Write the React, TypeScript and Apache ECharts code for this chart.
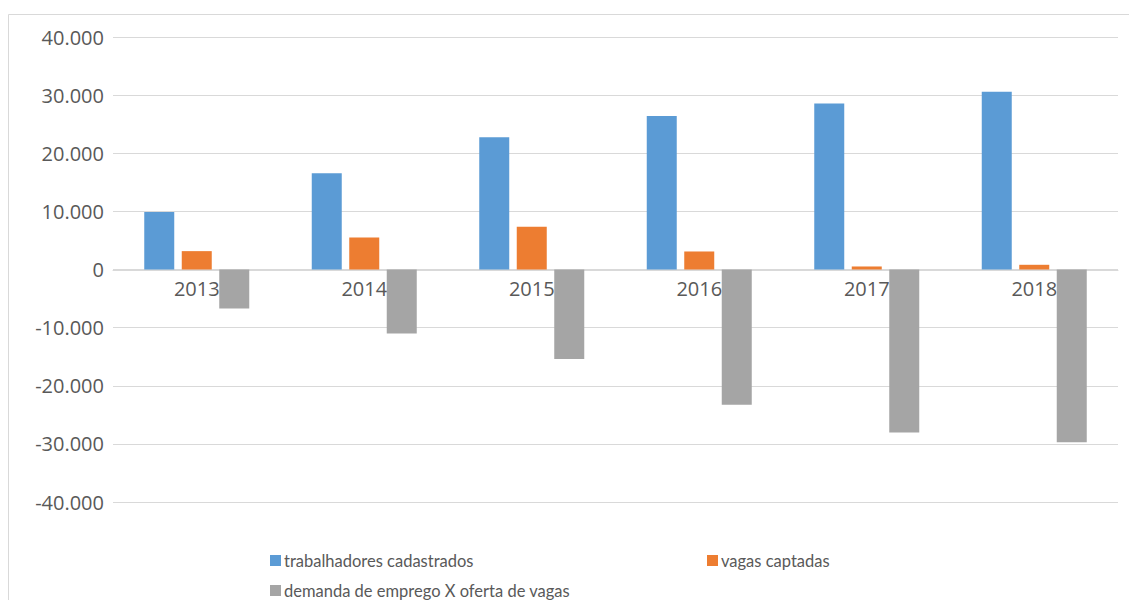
import React, { useEffect, useRef } from "react";
import * as echarts from "echarts";

const categories = ["2013", "2014", "2015", "2016", "2017", "2018"];
const trabalhadores = [9880, 16550, 22740, 26430, 28570, 30570];
const vagas = [3160, 5520, 7360, 3100, 520, 810];
const demanda = [-6720, -11030, -15400, -23280, -28050, -29720];

const seriesNames = [
  "trabalhadores cadastrados",
  "vagas captadas",
  "demanda de emprego X oferta de vagas",
];
const colors = ["#5B9BD5", "#ED7D31", "#A5A5A5"];

function fmt(v: number): string {
  const neg = v < 0;
  const s = Math.abs(v).toString().replace(/\B(?=(\d{3})+(?!\d))/g, ".");
  return (neg ? "-" : "") + s;
}

export default function App() {
  const ref = useRef<HTMLDivElement>(null);
  useEffect(() => {
    if (!ref.current) return;
    const chart = echarts.init(ref.current, undefined, { renderer: "svg" });
    const font = "'Open Sans', 'Noto Sans', sans-serif";
    const legendText = {
      color: "#595959",
      fontSize: 16.5,
      fontFamily: "Lato, 'Open Sans', sans-serif",
      padding: [0, 0, 0, -2],
    };
    const legendBase = {
      itemWidth: 11,
      itemHeight: 11,
      icon: "rect",
      padding: 0,
      textStyle: legendText,
    };
    chart.setOption({
      animation: false,
      backgroundColor: "#ffffff",
      textStyle: { fontFamily: font },
      graphic: [
        {
          type: "rect",
          shape: { x: 8.5, y: 14.5, width: 1200, height: 700 },
          style: { fill: "none", stroke: "#D9D9D9", lineWidth: 1 },
          silent: true,
        },
      ],
      grid: { left: 113, right: 11, top: 37, bottom: 98, containLabel: false },
      legend: [
        { ...legendBase, data: [seriesNames[0]], left: 270, top: 552 },
        { ...legendBase, data: [seriesNames[1]], left: 707, top: 552 },
        { ...legendBase, data: [seriesNames[2]], left: 270, top: 582 },
      ],
      xAxis: {
        type: "category",
        data: categories,
        offset: -232,
        axisLine: { onZero: false, lineStyle: { color: "#D9D9D9", width: 1 } },
        axisTick: { show: false },
        axisLabel: { color: "#595959", fontSize: 20, margin: 8, fontFamily: font },
        splitLine: { show: false },
      },
      yAxis: {
        type: "value",
        min: -40000,
        max: 40000,
        interval: 10000,
        axisLine: { show: false },
        axisTick: { show: false },
        axisLabel: {
          color: "#595959",
          fontSize: 20,
          margin: 9,
          fontFamily: font,
          formatter: (v: number) => fmt(v),
        },
        splitLine: { lineStyle: { color: "#D9D9D9", width: 1 } },
      },
      series: [
        {
          name: seriesNames[0],
          type: "bar",
          data: trabalhadores,
          barWidth: 30,
          barGap: "25%",
          itemStyle: { color: colors[0] },
        },
        {
          name: seriesNames[1],
          type: "bar",
          data: vagas,
          barWidth: 30,
          barGap: "25%",
          itemStyle: { color: colors[1] },
        },
        {
          name: seriesNames[2],
          type: "bar",
          data: demanda,
          barWidth: 30,
          barGap: "25%",
          itemStyle: { color: colors[2] },
        },
      ],
    });
    return () => chart.dispose();
  }, []);
  return (
    <div
      ref={ref}
      style={{ position: "fixed", left: 0, top: 0, width: 1129, height: 600 }}
    />
  );
}
